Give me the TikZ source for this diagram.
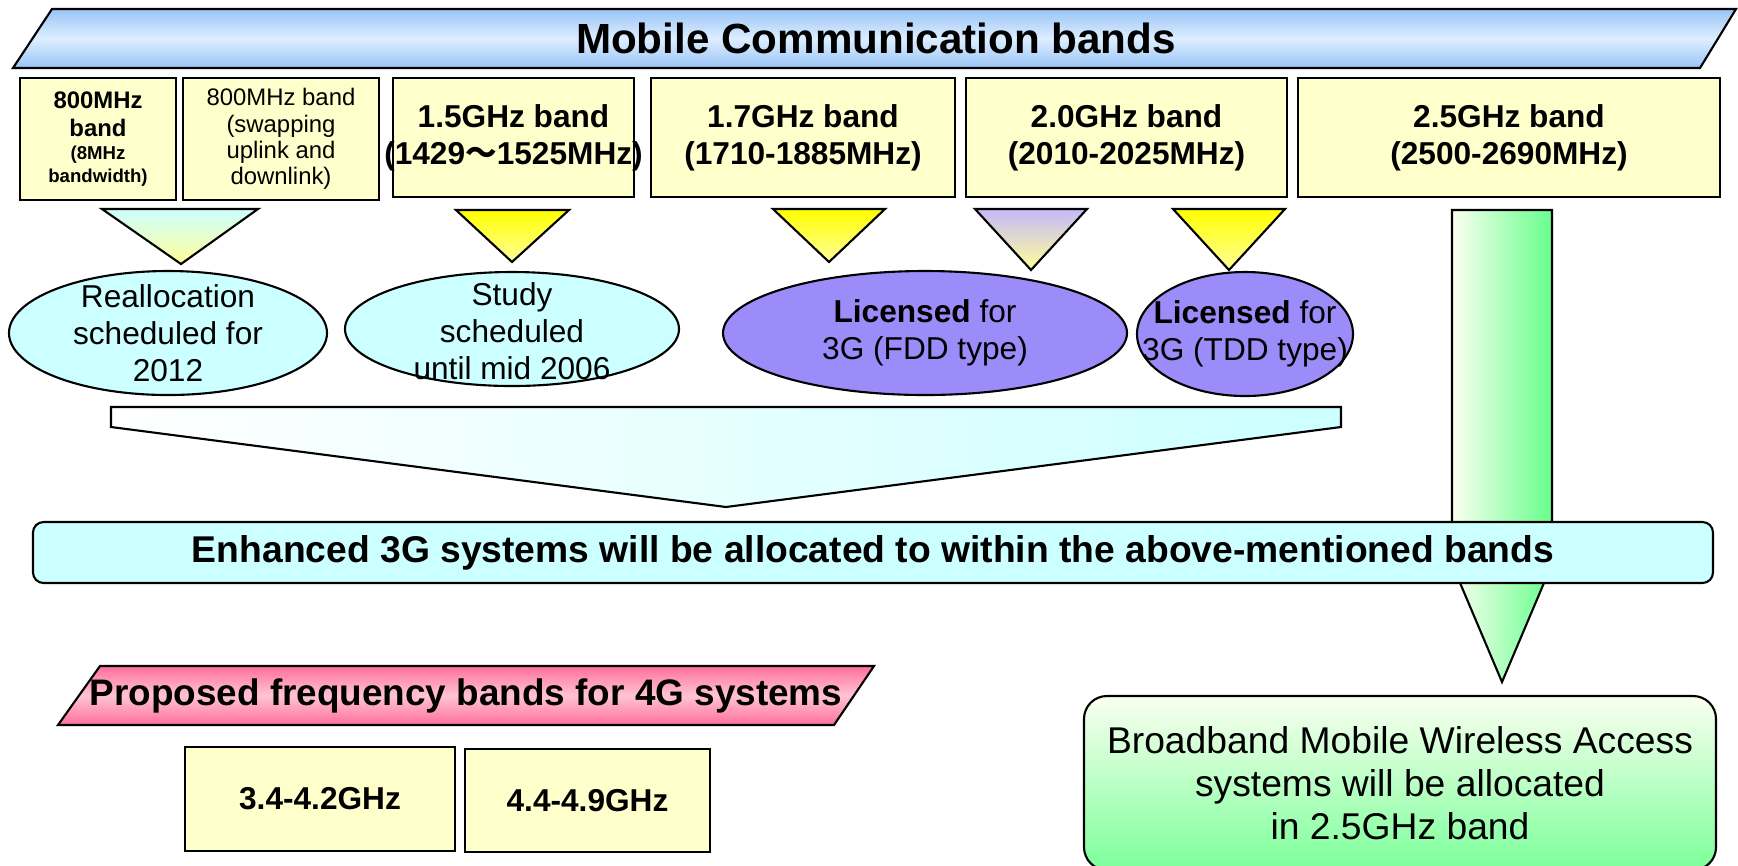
\documentclass[tikz,border=0pt]{standalone}
\usepackage{fontspec}
\setmainfont{Liberation Sans}
\newfontfamily\cjk{Noto Sans CJK JP}
\usetikzlibrary{shapes.geometric}

\definecolor{bandyellow}{HTML}{FFFFCC}
\definecolor{paleblue}{HTML}{CCFFFF}
\definecolor{lilac}{HTML}{9B8CF9}
\definecolor{skyblue}{HTML}{99C4F6}
\definecolor{mistblue}{HTML}{DDEEFF}
\definecolor{rose}{HTML}{FF6F9A}
\definecolor{blush}{HTML}{FFC4D4}
\definecolor{mint}{HTML}{66FF8C}
\definecolor{leaf}{HTML}{7CFF9A}
\definecolor{ivory}{HTML}{FAFFF0}
\definecolor{lavender}{HTML}{C6B8FA}
\definecolor{lemon}{HTML}{FFFF99}

\begin{document}
\begin{tikzpicture}
          [x=1cm, y=-1cm, line width=0.6pt,
          band/.style={shape=rectangle,draw=black,fill=bandyellow,minimum width=#1,minimum height=1.19cm,inner sep=0pt,align=center,font=\bfseries\fontsize{9}{10.5}\selectfont},
          oval/.style={shape=ellipse,draw=black,inner sep=0pt},
          ovaltext/.style={align=center,font=\fontsize{9}{10.5}\selectfont},
          tri/.style={draw=black,top color=#1,bottom color=lemon}]

          \useasboundingbox (0,0) rectangle (17.38,8.65);

          \draw [top color=skyblue,bottom color=skyblue,middle color=mistblue] (0.52,0.09) -- (17.36,0.09) -- (17.00,0.68) -- (0.13,0.68) -- cycle;
          \node (title) [font=\bfseries\fontsize{12}{14}\selectfont] at (8.76,0.385) {Mobile Communication bands};

            \node (b8a) [band=1.56cm,minimum height=1.22cm,font=\bfseries\fontsize{6.8}{8}\selectfont] at (0.98,1.39) {800MHz\\band\\[-1.5pt]\fontsize{5.3}{6.4}\selectfont(8MHz\\[-1.3pt]\fontsize{5.3}{6.4}\selectfont bandwidth)};
            \node (b8b) [band=1.96cm,minimum height=1.22cm,font=\fontsize{6.8}{7.5}\selectfont] at (2.81,1.39) {800MHz band\\(swapping\\uplink and\\downlink)};
            \node (b15) [band=2.41cm] at (5.135,1.375) {1.5GHz band\\\makebox[0pt]{(1429{\cjk ～}1525MHz)}};
            \node (b17) [band=3.04cm] at (8.03,1.375) {1.7GHz band\\(1710-1885MHz)};
            \node (b20) [band=3.21cm] at (11.265,1.375) {2.0GHz band\\(2010-2025MHz)};
            \node (b25) [band=4.22cm] at (15.09,1.375) {2.5GHz band\\(2500-2690MHz)};

          \draw [tri=paleblue] (1.02,2.09) -- (2.58,2.09) -- (1.81,2.64) -- cycle;
          \draw [tri=yellow] (4.56,2.10) -- (5.69,2.10) -- (5.12,2.62) -- cycle;
          \draw [tri=yellow] (7.73,2.09) -- (8.85,2.09) -- (8.29,2.62) -- cycle;
          \draw [tri=lavender] (9.75,2.09) -- (10.87,2.09) -- (10.31,2.70) -- cycle;
          \draw [tri=yellow] (11.73,2.09) -- (12.85,2.09) -- (12.29,2.70) -- cycle;

            \node (e1) [oval,fill=paleblue,minimum width=3.18cm,minimum height=1.24cm] at (1.68,3.33) {};
            \node (e2) [oval,fill=paleblue,minimum width=3.34cm,minimum height=1.14cm] at (5.12,3.29) {};
            \node (e3) [oval,fill=lilac,minimum width=4.04cm,minimum height=1.24cm] at (9.25,3.33) {};
            \node (e4) [oval,fill=lilac,minimum width=2.16cm,minimum height=1.24cm] at (12.45,3.34) {};
            \node (e1t) [ovaltext] at (e1) {Reallocation\\scheduled for\\2012};
            \node (e2t) [ovaltext] at (5.12,3.31) {Study\\scheduled\\until mid 2006};
            \node (e3t) [ovaltext] at (e3) {\textbf{Licensed} for\\3G (FDD type)};
            \node (e4t) [ovaltext] at (e4) {\textbf{Licensed} for\\3G (TDD type)};

          % block arrows
          \draw [left color=white,right color=paleblue] (1.11,4.07) -- (13.41,4.07) -- (13.41,4.27) -- (7.26,5.07) -- (1.11,4.27) -- cycle;
          \draw [left color=ivory,right color=mint] (14.52,2.10) -- (15.52,2.10) -- (15.52,5.64) -- (15.02,6.82) -- (14.52,5.64) -- cycle;

            \node (enh) [draw=black,fill=paleblue,rounded corners=3pt,minimum width=16.80cm,minimum height=0.61cm,inner sep=0pt,font=\bfseries\fontsize{10.6}{12}\selectfont] at (8.73,5.525) {Enhanced 3G systems will be allocated to within the above-mentioned bands};

          \draw [top color=rose,bottom color=rose,middle color=blush] (1.00,6.66) -- (8.74,6.66) -- (8.34,7.25) -- (0.58,7.25) -- cycle;
          \node (prop) [font=\bfseries\fontsize{10.5}{12}\selectfont] at (4.66,6.955) {Proposed frequency bands for 4G systems};

            \node (g34) [band=2.70cm,minimum height=1.04cm] at (3.20,7.99) {3.4-4.2GHz};
            \node (g44) [band=2.45cm,minimum height=1.03cm] at (5.875,8.005) {4.4-4.9GHz};

            \node (bwa) [draw=black,top color=ivory,bottom color=leaf,rounded corners=6.5pt,minimum width=6.32cm,minimum height=1.74cm,align=center,font=\fontsize{10.6}{12.2}\selectfont] at (14.00,7.83) {Broadband Mobile Wireless Access\\systems will be allocated\\in 2.5GHz band};

        \end{tikzpicture}
\end{document}
